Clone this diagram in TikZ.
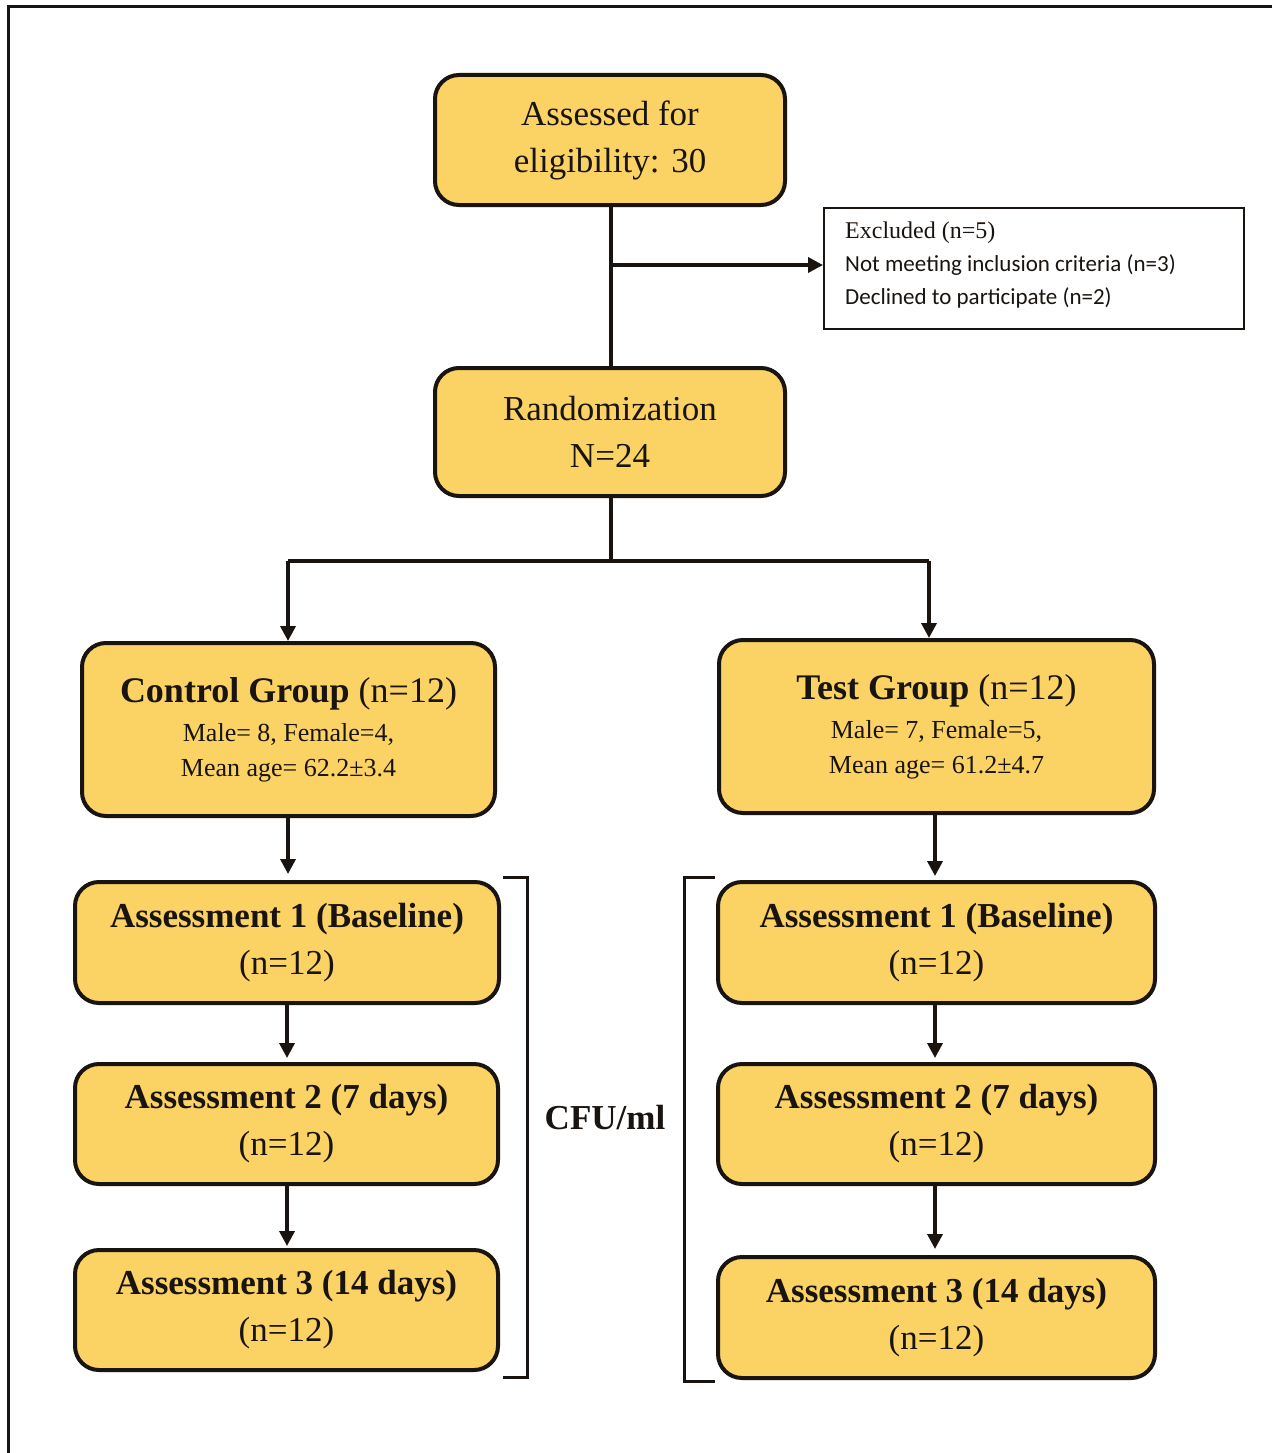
\documentclass[tikz,border=0pt]{standalone}
\usepackage{fontspec}
\setmainfont{Liberation Serif}
\newfontfamily\calib{Carlito}
\usetikzlibrary{arrows.meta}
\definecolor{boxfill}{RGB}{250,211,100}
\definecolor{ink}{RGB}{25,20,15}
\begin{document}
\begin{tikzpicture}[x=1pt,y=-1pt,
  ybox/.style={draw=ink, line width=4pt, fill=boxfill, rounded corners=24pt,
    align=center, inner sep=0pt, text=ink},
  bigtxt/.style={font=\fontsize{35}{47}\selectfont},
  asstxt/.style={font=\fontsize{35}{47}\selectfont},
  grptxt/.style={font=\fontsize{26}{35}\selectfont},
  conn/.style={draw=ink, line width=3.5pt},
  arr/.style={conn, -{Triangle[length=15pt,width=15pt]}},
  brk/.style={draw=ink, line width=3pt},
]
\useasboundingbox[fill=white] (0,0) rectangle (1272,1453);
% frame (top and left edges visible)
\draw[line width=3pt, ink] (1272,7) -- (8,7) -- (8,1453);

% top boxes
\node[ybox, bigtxt, minimum width=350pt, minimum height=130pt] (assess) at (610,140)
  {Assessed for\\eligibility: 30};
\node[draw=ink, line width=1.5pt, fill=white, anchor=north west, inner sep=0pt,
  minimum width=420pt, minimum height=121pt] (excl) at (823,207) {};
\node[anchor=north west, align=left, text=ink, inner sep=0pt,
  font=\fontsize{23}{33}\selectfont] (excltxt) at (845,222)
  {{\fontsize{24}{33}\selectfont Excluded (n=5)}\\
   {\calib\fontsize{23}{33}\selectfont Not meeting inclusion criteria (n=3)}\\
   {\calib\fontsize{23}{33}\selectfont Declined to participate (n=2)}};
\node[ybox, bigtxt, minimum width=350pt, minimum height=128pt] (rand) at (610,432)
  {Randomization\\N=24};

% group boxes
\node[ybox, grptxt, minimum width=413pt, minimum height=173pt] (ctrl) at (288.5,729.5)
  {{\fontsize{36}{40}\selectfont\textbf{Control Group} (n=12)}\\[4pt]
   Male= 8, Female=4,\\
   Mean age= 62.2±3.4};
\node[ybox, grptxt, minimum width=435pt, minimum height=173pt] (test) at (936.5,726.5)
  {{\fontsize{36}{40}\selectfont\textbf{Test Group} (n=12)}\\[4pt]
   Male= 7, Female=5,\\
   Mean age= 61.2±4.7};

% assessment boxes, left
\node[ybox, asstxt, minimum width=424pt, minimum height=121pt] (L1) at (287,942.5)
  {\textbf{Assessment 1 (Baseline)}\\(n=12)};
\node[ybox, asstxt, minimum width=423pt, minimum height=120pt] (L2) at (286.5,1124)
  {\textbf{Assessment 2 (7 days)}\\(n=12)};
\node[ybox, asstxt, minimum width=423pt, minimum height=120pt] (L3) at (286.5,1310)
  {\textbf{Assessment 3 (14 days)}\\(n=12)};
% assessment boxes, right
\node[ybox, asstxt, minimum width=437pt, minimum height=121pt] (R1) at (936.5,942.5)
  {\textbf{Assessment 1 (Baseline)}\\(n=12)};
\node[ybox, asstxt, minimum width=437pt, minimum height=120pt] (R2) at (936.5,1124)
  {\textbf{Assessment 2 (7 days)}\\(n=12)};
\node[ybox, asstxt, minimum width=437pt, minimum height=121pt] (R3) at (936.5,1317.5)
  {\textbf{Assessment 3 (14 days)}\\(n=12)};

% label
\node[text=ink, font=\fontsize{35}{40}\selectfont\bfseries] (cfu) at (605,1118) {CFU/ml};

% connectors
\coordinate (j1) at (611,265);
\coordinate (j2) at (611,561);
\coordinate (jl) at (288,561);
\coordinate (jr) at (929,561);
\coordinate (cl) at (287,0);
\coordinate (cr) at (935,0);
\draw[conn] (assess.south -| j1) -- (rand.north -| j1);
\draw[arr] (j1) -- (excl.west |- j1);
\draw[conn] (rand.south -| j2) -- (j2);
\draw[conn] (jl) -- (jr);
\draw[arr] (jl) -- (ctrl.north -| jl);
\draw[arr] (jr) -- (test.north -| jr);
\draw[arr, shorten >=6pt] (ctrl.south -| jl) -- (L1.north -| jl);
\draw[arr, shorten >=4pt] (L1.south -| cl) -- (L2.north -| cl);
\draw[arr, shorten >=2pt] (L2.south -| cl) -- (L3.north -| cl);
\draw[arr, shorten >=4pt] (test.south -| cr) -- (R1.north -| cr);
\draw[arr, shorten >=4pt] (R1.south -| cr) -- (R2.north -| cr);
\draw[arr, shorten >=6pt] (R2.south -| cr) -- (R3.north -| cr);

% brackets
\draw[brk] (503,877) -- (527,877) -- (527,1377) -- (503,1377);
\draw[brk] (715,877) -- (684,877) -- (684,1381) -- (715,1381);
\end{tikzpicture}
\end{document}
